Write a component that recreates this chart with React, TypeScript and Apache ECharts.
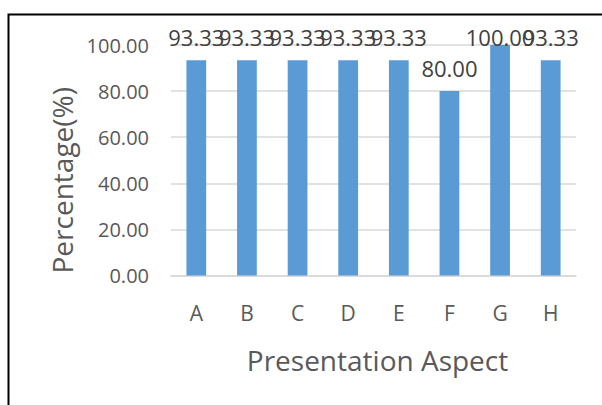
import React, { useEffect, useRef } from "react";
import * as echarts from "echarts";

const categories = ["A", "B", "C", "D", "E", "F", "G", "H"];
const values = [93.33, 93.33, 93.33, 93.33, 93.33, 80.0, 100.0, 93.33];
const yTicks = [0, 20, 40, 60, 80, 100];

const FONT = "'Open Sans', 'Noto Sans', sans-serif";
const TXT = "#595959";

export default function App() {
  const ref = useRef<HTMLDivElement>(null);
  useEffect(() => {
    if (!ref.current) return;
    const chart = echarts.init(ref.current, null, { renderer: "svg" });
    chart.setOption({
      animation: false,
      backgroundColor: "#ffffff",
      textStyle: { fontFamily: FONT },
      graphic: [
        {
          type: "rect",
          left: 6,
          top: 12,
          shape: { x: 0, y: 0, width: 640, height: 440 },
          style: { fill: "none", stroke: "#000000", lineWidth: 2 },
          silent: true,
        },
      ],
      grid: { left: 171, right: 26, top: 45, bottom: 129.5, containLabel: false },
      xAxis: {
        type: "category",
        data: categories,
        name: "Presentation Aspect",
        nameLocation: "middle",
        nameGap: 70,
        nameTextStyle: { fontSize: 28, color: TXT, fontFamily: FONT, padding: [0, 0, 0, 8] },
        axisLine: { show: true, lineStyle: { color: "#D9D9D9", width: 1.5 } },
        axisTick: { show: false },
        axisLabel: { fontSize: 21, color: TXT, margin: 27, fontFamily: FONT },
      },
      yAxis: {
        type: "value",
        min: yTicks[0],
        max: yTicks[yTicks.length - 1],
        interval: 20,
        name: "Percentage(%)",
        nameLocation: "middle",
        nameGap: 88,
        nameTextStyle: { fontSize: 28, color: TXT, fontFamily: FONT, padding: [0, 40, 0, 0] },
        axisLine: { show: false },
        axisTick: { show: false },
        splitLine: { lineStyle: { color: "#D9D9D9", width: 1.5 } },
        axisLabel: {
          fontSize: 20,
          color: TXT,
          margin: 22,
          fontFamily: FONT,
          padding: [4, 0, 0, 0],
          formatter: (v: number) => v.toFixed(2),
        },
      },
      series: [
        {
          type: "bar",
          data: values.map((v, i) =>
            i === 6 ? { value: v, label: { offset: [0, 15] } } : v
          ),
          barWidth: "39%",
          itemStyle: { color: "#5B9BD5" },
          label: {
            show: true,
            position: "top",
            distance: 12,
            fontSize: 22,
            color: "#404040",
            fontFamily: FONT,
            formatter: (p: any) => Number(p.value).toFixed(2),
          },
        },
      ],
    });
    return () => chart.dispose();
  }, []);
  return (
    <div
      ref={ref}
      style={{ position: "fixed", left: 0, top: 0, width: 602, height: 405 }}
    />
  );
}
